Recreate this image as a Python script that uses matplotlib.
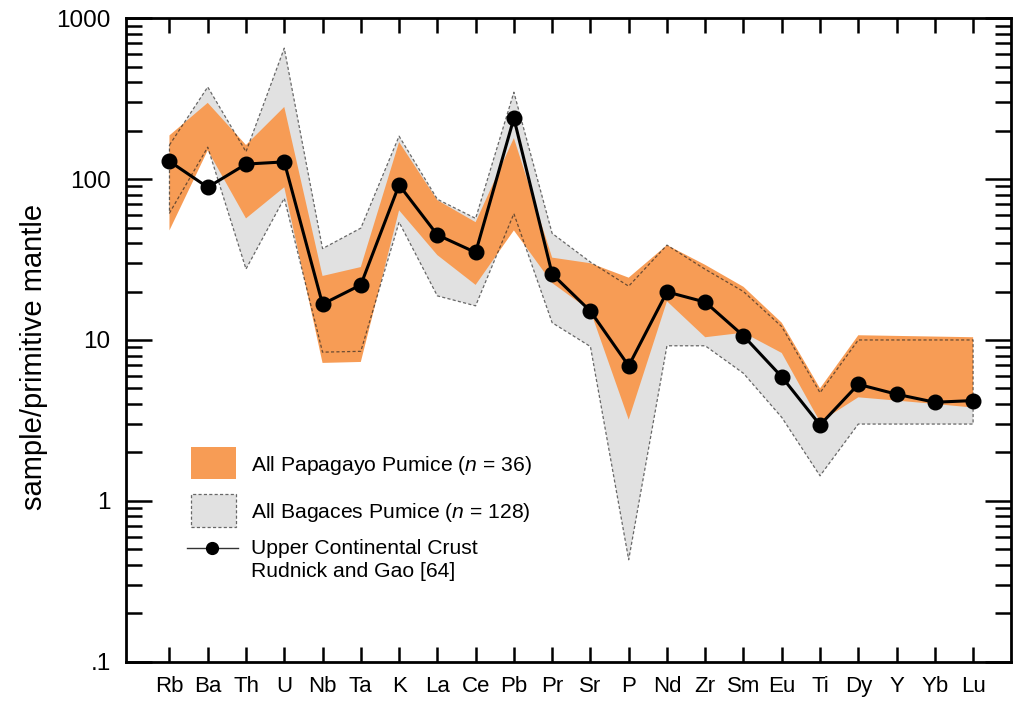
import numpy as np
import matplotlib
matplotlib.use("Agg")
import matplotlib.pyplot as plt
from matplotlib.ticker import FixedLocator, FixedFormatter, LogLocator, NullFormatter
from matplotlib.patches import Rectangle
from matplotlib.lines import Line2D

plt.rcParams['font.family'] = ['Liberation Sans', 'DejaVu Sans']
plt.rcParams['mathtext.fontset'] = 'custom'
plt.rcParams['mathtext.it'] = 'Liberation Sans:italic'
plt.rcParams['mathtext.rm'] = 'Liberation Sans'

# ---------------- data ----------------
elements = ["Rb", "Ba", "Th", "U", "Nb", "Ta", "K", "La", "Ce", "Pb", "Pr",
            "Sr", "P", "Nd", "Zr", "Sm", "Eu", "Ti", "Dy", "Y", "Yb", "Lu"]

ucc = [129, 89, 124, 128, 16.7, 22, 92, 45, 35, 239, 25.7,
       15.1, 6.9, 19.9, 17.2, 10.6, 5.9, 2.96, 5.3, 4.6, 4.1, 4.2]

papagayo_upper = [187, 298, 163, 281, 25, 28.4, 170, 74, 54, 180, 32.5,
                  30, 24.4, 38.9, 29.3, 21.4, 12.8, 5.0, 10.7, 10.6, 10.5, 10.4]
papagayo_lower = [48, 151, 57, 89, 7.2, 7.3, 64, 33.7, 22, 48, 22.6,
                  15.2, 3.2, 17.4, 10.4, 11.1, 8.3, 3.1, 4.4, 4.2, 4.0, 3.8]

bagaces_upper = [163, 374, 148, 652, 37, 49.6, 185, 75, 57, 347, 46,
                 30.5, 21.6, 38.9, 27.5, 20, 12.1, 4.7, 10, 10, 10, 10]
bagaces_lower = [61.5, 158, 27.6, 76, 8.4, 8.5, 54, 18.8, 16.3, 61, 12.8,
                 9.1, 0.43, 9.2, 9.2, 6.2, 3.3, 1.43, 3.0, 3.0, 3.0, 3.0]

ytick_vals = [0.1, 1, 10, 100, 1000]
ytick_labels = [".1", "1", "10", "100", "1000"]

labels_legend = ["All Papagayo Pumice ($\\mathit{n}$ = 36)",
                 "All Bagaces Pumice ($\\mathit{n}$ = 128)",
                 "Upper Continental Crust", "Rudnick and Gao [64]"]

ORANGE = "#F79C55"
GRAY = "#E1E1E1"
DASH_COL = (0.12, 0.12, 0.12, 0.65)

# ---------------- figure ----------------
fig = plt.figure(figsize=(10.24, 7.14), dpi=100)
ax = fig.add_axes([0.1230, 0.0733, 0.8643, 0.9011])

x = np.arange(len(elements))
ax.set_yscale("log")

# Bagaces fill
ax.fill_between(x, bagaces_lower, bagaces_upper, facecolor=GRAY,
                edgecolor="none", linewidth=0, zorder=1)
# Papagayo fill
ax.fill_between(x, papagayo_lower, papagayo_upper, facecolor=ORANGE,
                edgecolor="none", linewidth=0, zorder=2)
# Bagaces dashed outline
ox = np.concatenate([x, x[::-1], [x[0]]])
oy = np.concatenate([bagaces_upper, bagaces_lower[::-1], [bagaces_upper[0]]])
ax.plot(ox, oy, color=DASH_COL, lw=0.9, linestyle=(0, (2.5, 1.8)), zorder=3)

# UCC line
ax.plot(x, ucc, color="black", lw=2.2, marker="o", markersize=10.5,
        markerfacecolor="black", markeredgecolor="black", zorder=5)

# axes limits
ax.set_xlim(-1.137, 21.99)
ax.set_ylim(0.1, 1000)

# ticks
ax.set_xticks(x)
ax.set_xticklabels(elements, fontsize=16)
ax.yaxis.set_major_locator(FixedLocator(ytick_vals))
ax.yaxis.set_major_formatter(FixedFormatter(ytick_labels))
ax.yaxis.set_minor_locator(LogLocator(base=10, subs=np.arange(2, 10)))
ax.yaxis.set_minor_formatter(NullFormatter())

ax.tick_params(axis="x", which="major", direction="in", length=11, width=1.8,
               top=True, bottom=True, pad=10, labelsize=16)
ax.tick_params(axis="x", which="minor", bottom=False, top=False)
ax.tick_params(axis="y", which="major", direction="in", length=19, width=1.8,
               left=True, right=True, pad=11, labelsize=17.5)
ax.tick_params(axis="y", which="minor", direction="in", length=11.5, width=1.8,
               left=True, right=True)

for s in ax.spines.values():
    s.set_linewidth(2.0)
    s.set_color("black")

ax.set_ylabel("sample/primitive mantle", fontsize=21)
ax.yaxis.set_label_coords(-0.088, 0.473)

# ---------------- legend (manual) ----------------
T = ax.transAxes
ax.add_patch(Rectangle((0.0731, 0.2834), 0.0509, 0.0506, transform=T,
                       facecolor=ORANGE, edgecolor="none", zorder=6))
ax.add_patch(Rectangle((0.0731, 0.2093), 0.0509, 0.0512, transform=T,
                       facecolor=GRAY, edgecolor=DASH_COL, lw=0.9,
                       linestyle=(0, (2.5, 1.8)), zorder=6))
ax.add_line(Line2D([0.0689, 0.1266], [0.1766, 0.1766], transform=T,
                   color="#333333", lw=1.0, zorder=6))
ax.add_line(Line2D([0.0975], [0.1766], transform=T, color="black",
                   marker="o", markersize=8.5, lw=0, zorder=7))

ax.text(0.1412, 0.3056, labels_legend[0], transform=T, fontsize=15.2,
        va="center", ha="left", zorder=7)
ax.text(0.1412, 0.2326, labels_legend[1], transform=T, fontsize=15.2,
        va="center", ha="left", zorder=7)
ax.text(0.1412, 0.1766, labels_legend[2], transform=T, fontsize=15.2,
        va="center", ha="left", zorder=7)
ax.text(0.1412, 0.1394, labels_legend[3], transform=T, fontsize=15.2,
        va="center", ha="left", zorder=7)

fig.savefig("out.png", dpi=100)
